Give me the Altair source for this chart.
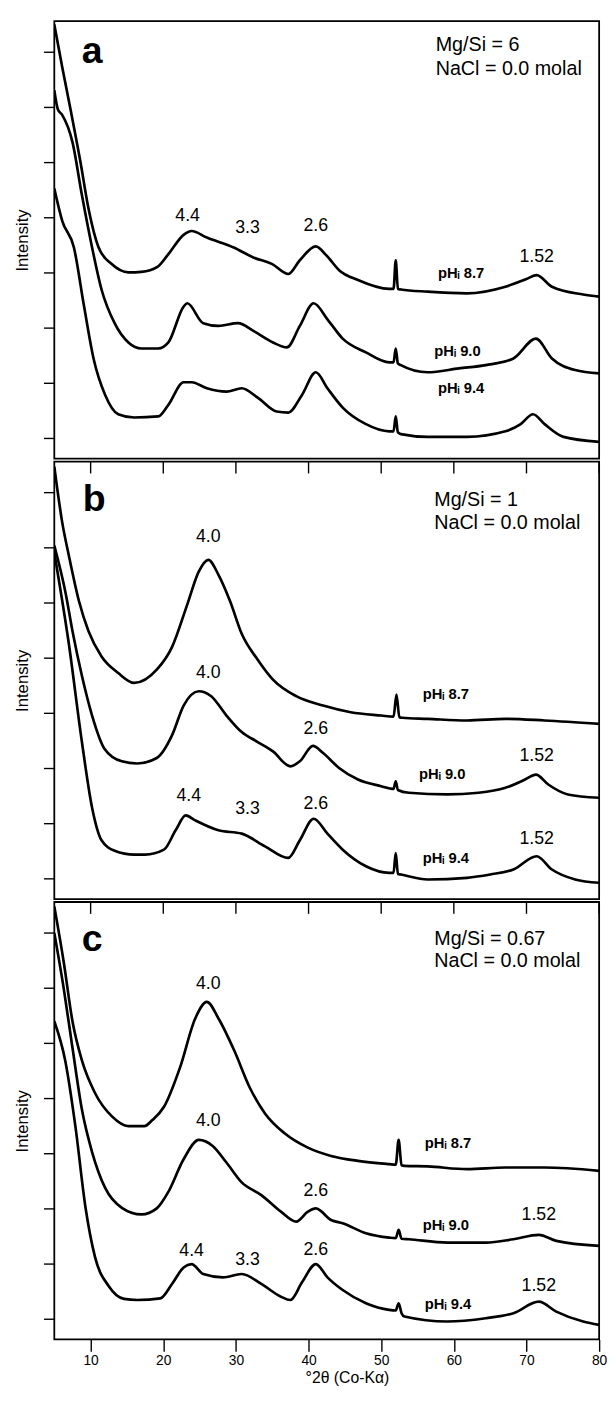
import altair as alt
import pandas as pd

FONT = "Liberation Sans, Arial, Helvetica, sans-serif"

# ---------------- curve data (x = deg 2-theta, y = intensity in tick units) ----------------
# Panel a  (Mg/Si = 6)
A87_X = [5, 6.1, 7.25, 8.6, 9.7, 11.1, 12.9, 15.2, 17, 19.2, 20.7, 22.8, 23.9, 26, 29.7, 32.4, 35, 37.2, 38.8,
         41.0, 42.5, 44.2, 46.8, 51.1, 51.7, 52, 52.3, 52.7, 56.4, 61.8, 67.1, 70, 71.4, 73.5, 77.8, 80]
A87_Y = [7.49, 6.71, 5.94, 5.0, 4.16, 3.45, 3.15, 3.0, 3.01, 3.1, 3.33, 3.68, 3.75, 3.63, 3.45, 3.27, 3.15, 2.97, 3.22,
         3.47, 3.30, 3.04, 2.86, 2.70, 2.70, 3.22, 2.70, 2.69, 2.65, 2.62, 2.74, 2.88, 2.95, 2.74, 2.60, 2.56]
A90_X = [5, 5.5, 6.1, 7.5, 8.8, 10.2, 11.5, 13.3, 15.2, 17, 19.3, 20.7, 22.8, 23.3, 25.5, 27.6, 30.3, 32.4, 35.1,
         37, 38.8, 40.7, 42.6, 44.7, 47.9, 51.1, 51.7, 52, 52.3, 52.7, 56.4, 60.7, 64.4, 68.2, 71.3, 73.5, 76.7, 80]
A90_Y = [6.3, 5.95, 5.85, 5.36, 4.4, 3.45, 2.69, 2.08, 1.73, 1.62, 1.62, 1.73, 2.38, 2.44, 2.08, 2.03, 2.08, 1.94, 1.73,
         1.64, 2.03, 2.44, 2.15, 1.80, 1.55, 1.37, 1.37, 1.62, 1.35, 1.32, 1.19, 1.26, 1.32, 1.44, 1.80, 1.44, 1.23, 1.17]
A94_X = [5, 6.1, 7.7, 9.1, 10.4, 12, 13.8, 16, 19.3, 20.7, 22.8, 23.9, 26, 28.7, 30.8, 33, 35.6, 37.2, 39.1, 41,
         42.6, 44.7, 47.9, 51.1, 51.7, 52, 52.3, 52.7, 56.4, 61.8, 67.1, 69.2, 70.9, 72.5, 75.1, 80]
A94_Y = [4.52, 3.93, 3.45, 2.38, 1.44, 0.78, 0.43, 0.37, 0.39, 0.6, 1.01, 1.01, 0.9, 0.84, 0.9, 0.73, 0.48, 0.46, 0.78, 1.19,
         0.9, 0.55, 0.25, 0.12, 0.12, 0.39, 0.10, 0.07, 0.02, 0.02, 0.12, 0.25, 0.43, 0.25, 0.02, -0.07]

# Panel b  (Mg/Si = 1)
B87_X = [5, 6.1, 7.0, 8.4, 9.7, 11.5, 13.8, 16, 19.1, 21.2, 23.3, 24.9, 26.2, 27.6, 29.2, 30.8, 33, 35.1, 38.3, 42,
         45.8, 50, 51.7, 52.1, 52.5, 52.9, 56.4, 61.8, 67.1, 72.5, 80]
B87_Y = [7.46, 6.44, 5.85, 5.02, 4.48, 4.02, 3.72, 3.54, 3.78, 4.19, 4.96, 5.56, 5.77, 5.5, 5.02, 4.43, 3.96, 3.6, 3.3, 3.13,
         3.01, 2.95, 2.93, 3.33, 2.92, 2.91, 2.89, 2.86, 2.89, 2.86, 2.80]
B90_X = [5, 6.6, 7.5, 8.8, 10.2, 11.9, 14.3, 16.4, 19.1, 21.2, 22.8, 24.9, 26.6, 28.7, 30.8, 33, 35.1, 37.5, 38.8, 40.6,
         42, 44.2, 46.8, 50, 51.7, 52, 52.3, 53.8, 59.1, 63.4, 67.1, 69.8, 71.3, 73, 75.7, 80]
B90_Y = [6.03, 5.14, 4.48, 3.67, 2.95, 2.35, 2.12, 2.08, 2.18, 2.59, 3.13, 3.39, 3.30, 2.95, 2.65, 2.47, 2.30, 2.03, 2.12, 2.40,
         2.27, 2.0, 1.79, 1.67, 1.62, 1.76, 1.6, 1.55, 1.52, 1.55, 1.64, 1.79, 1.88, 1.70, 1.52, 1.46]
B94_X = [5, 7.0, 8.8, 10.2, 11.5, 13.3, 16, 17.5, 20.1, 21.7, 23.1, 24.4, 27.6, 30.8, 34, 37.2, 38.8, 40.7, 42.6, 44.7,
         47.9, 51.1, 51.7, 52, 52.3, 52.7, 56.4, 61.8, 65, 68.2, 71.4, 73.5, 76.7, 80]
B94_Y = [5.9, 4.25, 2.47, 1.28, 0.69, 0.5, 0.43, 0.43, 0.52, 0.87, 1.14, 1.05, 0.87, 0.81, 0.58, 0.37, 0.69, 1.08, 0.81, 0.52,
         0.22, 0.10, 0.10, 0.46, 0.08, 0.07, -0.02, 0.01, 0.07, 0.16, 0.40, 0.16, -0.02, -0.08]

# Panel c  (Mg/Si = 0.67)
C87_X = [5, 6.3, 7.5, 8.8, 10.6, 12.9, 15.2, 17.4, 18.5, 20.1, 22.3, 24.4, 26, 27.6, 29.8, 31.9, 34, 36.7, 39.9, 43.1,
         46.8, 51.1, 52.0, 52.4, 52.8, 53.2, 56.4, 61.8, 67.1, 72.5, 80]
C87_Y = [7.47, 6.46, 5.39, 4.68, 4.09, 3.67, 3.49, 3.49, 3.6, 3.84, 4.55, 5.44, 5.74, 5.44, 4.85, 4.19, 3.72, 3.36, 3.1, 2.95,
         2.86, 2.80, 2.79, 3.24, 2.78, 2.77, 2.76, 2.71, 2.74, 2.74, 2.68]
C90_X = [5, 6.3, 7.5, 8.8, 10.2, 12, 14.3, 17, 19.1, 20.7, 22.8, 24.9, 26.8, 28.7, 30.8, 33.5, 36.2, 38.3, 39.9, 41,
         43.1, 44.7, 47.9, 51.1, 52.0, 52.4, 52.8, 53.8, 59.1, 64.4, 68.2, 71.7, 74.1, 80]
C90_Y = [6.99, 5.98, 4.91, 3.79, 3.02, 2.37, 2.01, 1.89, 2.0, 2.3, 2.89, 3.24, 3.13, 2.83, 2.47, 2.24, 1.94, 1.76, 1.94, 2.0,
         1.79, 1.73, 1.55, 1.47, 1.46, 1.61, 1.45, 1.44, 1.38, 1.38, 1.44, 1.52, 1.41, 1.32]
C94_X = [5, 6.5, 7.9, 9.3, 10.6, 12.5, 14.6, 16.4, 19.6, 21.2, 22.8, 23.9, 25.5, 28.2, 30.8, 33.5, 36.2, 37.5, 39.1, 41,
         42.6, 44.7, 47.9, 51.1, 52.0, 52.4, 52.8, 53.2, 59.1, 64.4, 68.2, 71.7, 74.1, 77.8, 80]
C94_Y = [5.39, 4.68, 3.49, 2.01, 1.12, 0.59, 0.36, 0.34, 0.37, 0.63, 0.93, 0.99, 0.81, 0.75, 0.81, 0.63, 0.40, 0.34, 0.66, 0.99,
         0.75, 0.52, 0.28, 0.16, 0.15, 0.28, 0.1, 0.04, -0.05, 0.01, 0.10, 0.31, 0.13, -0.05, -0.11]

# ---------------- annotations ----------------
PEAK_A_TEXT = ["4.4", "3.3", "2.6", "1.52"]
PEAK_A_X = [23.35, 31.6, 41.0, 71.4]
PEAK_A_Y = [4.02, 3.81, 3.84, 3.27]
PEAK_B_TEXT = ["4.0", "4.0", "2.6", "1.52", "4.4", "3.3", "2.6", "1.52"]
PEAK_B_X = [26.2, 26.2, 41.0, 71.4, 23.5, 31.6, 41.0, 71.4]
PEAK_B_Y = [6.18, 3.72, 2.71, 2.21, 1.49, 1.26, 1.35, 0.72]
PEAK_C_TEXT = ["4.0", "4.0", "2.6", "1.52", "4.4", "3.3", "2.6", "1.52"]
PEAK_C_X = [26.2, 26.2, 41.0, 71.7, 23.9, 31.6, 41.0, 71.7]
PEAK_C_Y = [6.06, 3.59, 2.32, 1.87, 1.22, 1.07, 1.25, 0.60]

PH_TEXT = ["pH\u1d62 8.7", "pH\u1d62 9.0", "pH\u1d62 9.4"]
PH_A_X = [61.0, 60.5, 61.0]
PH_A_Y = [2.98, 1.58, 0.90]
PH_B_X = [58.9, 58.4, 58.9]
PH_B_Y = [3.33, 1.89, 0.37]
PH_C_X = [59.2, 58.9, 59.2]
PH_C_Y = [3.18, 1.70, 0.27]

PANEL_LETTERS = ["a", "b", "c"]
LETTER_X = [10.2, 10.5, 10.2]
LETTER_Y = [6.80, 6.65, 6.67]

INFO_LINE1 = ["Mg/Si = 6", "Mg/Si = 1", "Mg/Si = 0.67"]
INFO_LINE2 = ["NaCl = 0.0 molal", "NaCl = 0.0 molal", "NaCl = 0.0 molal"]
INFO_X = [57.5, 57.3, 57.3]
INFO_Y1 = [7.01, 6.74, 6.78]
INFO_Y2 = [6.57, 6.33, 6.37]

X_TICKS = [10, 20, 30, 40, 50, 60, 70, 80]
Y_TICKS = [0, 1, 2, 3, 4, 5, 6, 7]
X_DOMAIN = [5, 80]
Y_DOMAIN = [-0.375, 7.55]

CURVES = {
    "a": [("8.7", A87_X, A87_Y), ("9.0", A90_X, A90_Y), ("9.4", A94_X, A94_Y)],
    "b": [("8.7", B87_X, B87_Y), ("9.0", B90_X, B90_Y), ("9.4", B94_X, B94_Y)],
    "c": [("8.7", C87_X, C87_Y), ("9.0", C90_X, C90_Y), ("9.4", C94_X, C94_Y)],
}
PEAKS = {"a": (PEAK_A_TEXT, PEAK_A_X, PEAK_A_Y),
         "b": (PEAK_B_TEXT, PEAK_B_X, PEAK_B_Y),
         "c": (PEAK_C_TEXT, PEAK_C_X, PEAK_C_Y)}
PHS = {"a": (PH_A_X, PH_A_Y), "b": (PH_B_X, PH_B_Y), "c": (PH_C_X, PH_C_Y)}

PANEL_W = 553
PANEL_H = 444


def make_panel(i, key):
    bottom = key == "c"
    rows = []
    for s, xs, ys in CURVES[key]:
        assert len(xs) == len(ys), (key, s)
        for x, y in zip(xs, ys):
            rows.append({"series": s, "x": x, "y": y})
    curve_df = pd.DataFrame(rows)

    t, px, py = PEAKS[key]
    peak_df = pd.DataFrame({"label": t, "x": px, "y": py})
    hx, hy = PHS[key]
    ph_df = pd.DataFrame({"label": PH_TEXT, "x": hx, "y": hy})
    info_df = pd.DataFrame({"label": [INFO_LINE1[i], INFO_LINE2[i]],
                            "x": [INFO_X[i], INFO_X[i]],
                            "y": [INFO_Y1[i], INFO_Y2[i]]})
    letter_df = pd.DataFrame({"label": [PANEL_LETTERS[i]], "x": [LETTER_X[i]], "y": [LETTER_Y[i]]})

    if bottom:
        xaxis = alt.Axis(values=X_TICKS, tickSize=12, tickWidth=1.4, tickColor="black",
                         labels=True, labelFontSize=14, labelFont=FONT, labelColor="black",
                         labelPadding=2, labelFlush=False,
                         title="°2θ (Co-Kα)", titleFont=FONT, titleFontSize=16,
                         titleFontWeight="normal", titleColor="black", titlePadding=3,
                         titleX=297, domain=False, grid=False)
    else:
        xaxis = None
    yaxis = alt.Axis(values=Y_TICKS, tickSize=11, tickWidth=1.4, tickColor="black",
                     labels=False, title="Intensity", titleFont=FONT, titleFontSize=17,
                     titleFontWeight="normal", titleColor="black", titlePadding=12,
                     domain=False, grid=False)

    xs = alt.Scale(domain=X_DOMAIN, nice=False, zero=False)
    ys = alt.Scale(domain=Y_DOMAIN, nice=False, zero=False)

    lines = alt.Chart(curve_df).mark_line(
        color="black", strokeWidth=2.7, interpolate="monotone", clip=True
    ).encode(
        x=alt.X("x:Q", scale=xs, axis=xaxis),
        y=alt.Y("y:Q", scale=ys, axis=yaxis),
        detail="series:N",
    )
    peaks = alt.Chart(peak_df).mark_text(font=FONT, fontSize=18, color="black").encode(
        x="x:Q", y="y:Q", text="label:N")
    phs = alt.Chart(ph_df).mark_text(font=FONT, fontSize=15, fontWeight="bold", color="black").encode(
        x="x:Q", y="y:Q", text="label:N")
    info = alt.Chart(info_df).mark_text(font=FONT, fontSize=20, color="black", align="left",
                                        baseline="alphabetic").encode(
        x="x:Q", y="y:Q", text="label:N")
    letter = alt.Chart(letter_df).mark_text(font=FONT, fontSize=38, fontWeight="bold", color="black",
                                            baseline="alphabetic").encode(
        x="x:Q", y="y:Q", text="label:N")
    layers = [lines, peaks, phs, info, letter]
    if key != "a":
        # x-axis ticks of the panel above, reaching down into this panel
        tick_df = pd.DataFrame({"x": X_TICKS})
        upper_ticks = alt.Chart(tick_df).mark_rule(color="black", strokeWidth=1.4).encode(
            x=alt.X("x:Q", scale=xs), y=alt.value(0), y2=alt.value(12))
        layers.append(upper_ticks)
    return alt.layer(*layers).properties(width=PANEL_W, height=PANEL_H)


panels = [make_panel(i, k) for i, k in enumerate(["a", "b", "c"])]

chart = alt.vconcat(*panels, spacing=0).properties(
    padding={"left": 4, "top": 2, "right": 0, "bottom": 0}
).configure(background="white").configure_view(stroke="black", strokeWidth=1.8)

chart.save("out.html", embed_options={"renderer": "svg", "actions": False})
